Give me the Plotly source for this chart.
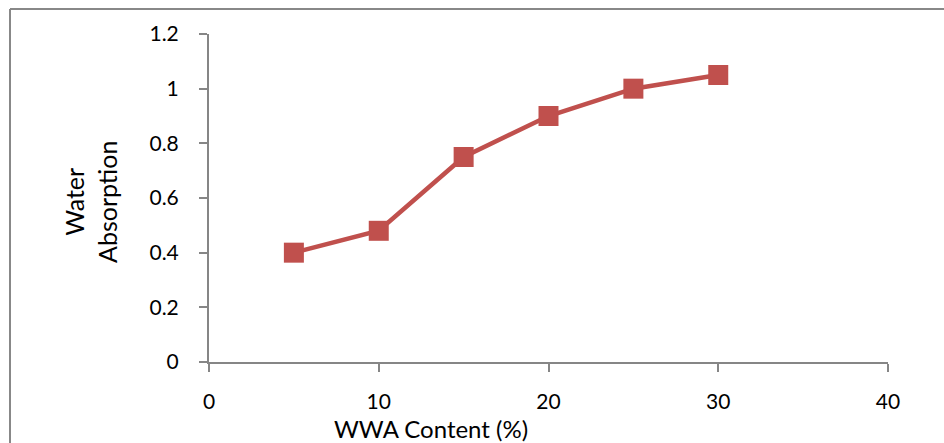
import plotly.graph_objects as go

# WWA content (%) versus water absorption
wwa_content = [5, 10, 15, 20, 25, 30]
water_absorption = [0.40, 0.48, 0.75, 0.90, 1.00, 1.05]

x_ticks = [0, 10, 20, 30, 40]
y_ticks = [0, 0.2, 0.4, 0.6, 0.8, 1.0, 1.2]
y_tick_text = ["0", "0.2", "0.4", "0.6", "0.8", "1", "1.2"]

RED = "#C0504D"
AXIS = "#868686"
FONT = "Lato, 'Open Sans', sans-serif"

W, H = 944, 443
L, R, T, B = 209, 56, 34, 81
pw, ph = W - L - R, H - T - B


def px_x(p):
    return (p - L) / pw


def px_y(p):
    return (H - B - p) / ph


fig = go.Figure()
fig.add_trace(go.Scatter(
    x=wwa_content, y=water_absorption,
    mode="lines+markers",
    line=dict(color=RED, width=4.5),
    marker=dict(symbol="square", size=20, color=RED),
    showlegend=False,
    cliponaxis=False,
))

fig.update_layout(
    width=W, height=H,
    margin=dict(l=L, r=R, t=T, b=B),
    paper_bgcolor="white", plot_bgcolor="white",
    font=dict(family=FONT, size=21, color="black"),
    xaxis=dict(
        range=[0, 40], tickvals=x_ticks, showgrid=False, zeroline=False,
        showline=True, linecolor=AXIS, linewidth=2,
        ticks="outside", ticklen=8, tickwidth=2, tickcolor=AXIS,
        ticklabelstandoff=12, tickfont=dict(size=21),
    ),
    yaxis=dict(
        range=[0, 1.2], tickvals=y_ticks, ticktext=y_tick_text,
        showgrid=False, zeroline=False,
        showline=True, linecolor=AXIS, linewidth=2,
        ticks="outside", ticklen=8, tickwidth=2, tickcolor=AXIS,
        ticklabelstandoff=16, tickfont=dict(size=21),
    ),
    annotations=[
        dict(text="WWA Content (%)", xref="paper", yref="paper",
             x=px_x(431), y=px_y(428), showarrow=False,
             font=dict(size=24), xanchor="center", yanchor="middle"),
        dict(text="Water<br>Absorption", xref="paper", yref="paper",
             x=px_x(90), y=px_y(202), showarrow=False, textangle=-90,
             font=dict(size=25), xanchor="center", yanchor="middle"),
    ],
    shapes=[
        dict(type="line", xref="paper", yref="paper",
             x0=px_x(10), x1=px_x(10), y0=px_y(9), y1=px_y(460),
             line=dict(color="#888888", width=2)),
        dict(type="line", xref="paper", yref="paper",
             x0=px_x(10), x1=px_x(960), y0=px_y(9), y1=px_y(9),
             line=dict(color="#888888", width=2)),
    ],
)

fig.write_html("out.html")
